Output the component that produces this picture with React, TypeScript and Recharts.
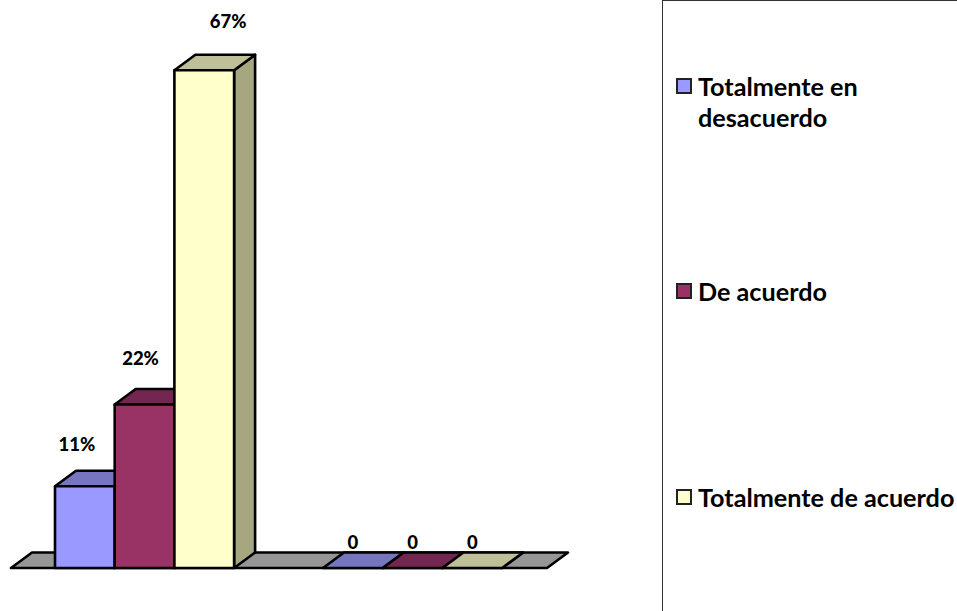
import React from "react";
import { BarChart, Bar, XAxis, YAxis, Legend, LabelList, usePlotArea } from "recharts";

const categories = ["A", "B"];
const seriesNames = ["Totalmente en desacuerdo", "De acuerdo", "Totalmente de acuerdo"];
const totalmenteEnDesacuerdo = [0.11, 0];
const deAcuerdo = [0.22, 0];
const totalmenteDeAcuerdo = [0.67, 0];

const seriesValues = [totalmenteEnDesacuerdo, deAcuerdo, totalmenteDeAcuerdo];
const keys = ["s0", "s1", "s2"];
const frontColors = ["#9999FF", "#993366", "#FFFFCC"];
const topColors = ["#7676C0", "#732650", "#BFBF99"];
const sideColors = ["#6666A8", "#662244", "#A6A680"];
const floorColor = "#969696";

const labelDx = [[-8, 0], [-4, 0], [24, 0]];
const labelDy = [[-42, -26], [-47, -26], [-49, -26]];

const DEPTH_X = 21;
const DEPTH_Y = 15.5;
const FONT = "Lato, Carlito, sans-serif";
const EDGE = { stroke: "#000", strokeWidth: 2.6, strokeLinejoin: "round" as const };

const data = categories.map((c, i) => {
  const row: Record<string, string | number> = { category: c };
  keys.forEach((k, s) => (row[k] = seriesValues[s][i]));
  return row;
});

function Floor() {
  const p = usePlotArea();
  if (!p) return null;
  const y0 = p.y + p.height;
  const x0 = p.x;
  const x1 = p.x + p.width;
  return (
    <polygon
      points={`${x0},${y0} ${x1},${y0} ${x1 + DEPTH_X},${y0 - DEPTH_Y} ${x0 + DEPTH_X},${y0 - DEPTH_Y}`}
      fill={floorColor}
      {...EDGE}
    />
  );
}

const box3d = (s: number) => (props: any) => {
  const { x, y, width: w, height: h } = props;
  const b = y + h;
  return (
    <g>
      <polygon
        points={`${x + w},${y} ${x + w + DEPTH_X},${y - DEPTH_Y} ${x + w + DEPTH_X},${b - DEPTH_Y} ${x + w},${b}`}
        fill={sideColors[s]}
        {...EDGE}
      />
      <polygon
        points={`${x},${y} ${x + DEPTH_X},${y - DEPTH_Y} ${x + w + DEPTH_X},${y - DEPTH_Y} ${x + w},${y}`}
        fill={topColors[s]}
        {...EDGE}
      />
      <rect x={x} y={y} width={w} height={h} fill={frontColors[s]} {...EDGE} />
    </g>
  );
};

const labelContent = (s: number) => (props: any) => {
  const { x, y, width, value, index } = props;
  const text = value === 0 ? "0" : `${Math.round(value * 100)}%`;
  return (
    <text
      x={x + width / 2 + labelDx[s][index]}
      y={y + labelDy[s][index]}
      textAnchor="middle"
      dominantBaseline="central"
      fontFamily={FONT}
      fontWeight={900}
      fontSize={18.5}
      fill="#000"
    >
      {text}
    </text>
  );
};

const legendRows = [
  { top: 71, lines: ["Totalmente en", "desacuerdo"] },
  { top: 276, lines: ["De acuerdo"] },
  { top: 482, lines: ["Totalmente de acuerdo"] },
];

function LegendBox() {
  return (
    <div
      style={{
        position: "relative",
        width: 295,
        height: 611,
        boxSizing: "border-box",
        borderLeft: "1px solid #333",
        borderTop: "1px solid #333",
        fontFamily: FONT,
        fontWeight: 700,
        fontSize: 25.2,
        lineHeight: "31px",
        color: "#000",
      }}
    >
      {legendRows.map((r, i) => (
        <div key={seriesNames[i]} style={{ position: "absolute", left: 0, top: r.top - 1, whiteSpace: "nowrap" }}>
          <span
            style={{
              position: "absolute",
              left: 13,
              top: 7,
              width: 16,
              height: 16,
              background: frontColors[i],
              border: "2px solid #222",
              boxSizing: "border-box",
              display: "block",
            }}
          />
          <div style={{ marginLeft: 35 }}>
            {r.lines.map((l) => (
              <div key={l}>{l}</div>
            ))}
          </div>
        </div>
      ))}
    </div>
  );
}

export default function App() {
  return (
    <div style={{ position: "absolute", left: 0, top: 0, width: 957, height: 611, overflow: "hidden", background: "#fff" }}>
      <BarChart
        width={957}
        height={611}
        data={data}
        margin={{ top: 10, right: 115, bottom: 43, left: 11 }}
        barSize={59.7}
        barGap={0}
      >
        <XAxis dataKey="category" hide />
        <YAxis hide domain={[0, 0.751]} />
        <Legend
          layout="vertical"
          align="right"
          verticalAlign="top"
          content={<LegendBox />}
          wrapperStyle={{ left: 662, top: 0, width: 295, height: 611 }}
        />
        <Floor />
        {keys.map((k, s) => (
          <Bar key={k} dataKey={k} name={seriesNames[s]} fill={frontColors[s]} isAnimationActive={false} shape={box3d(s)}>
            <LabelList dataKey={k} content={labelContent(s)} />
          </Bar>
        ))}
      </BarChart>
    </div>
  );
}
